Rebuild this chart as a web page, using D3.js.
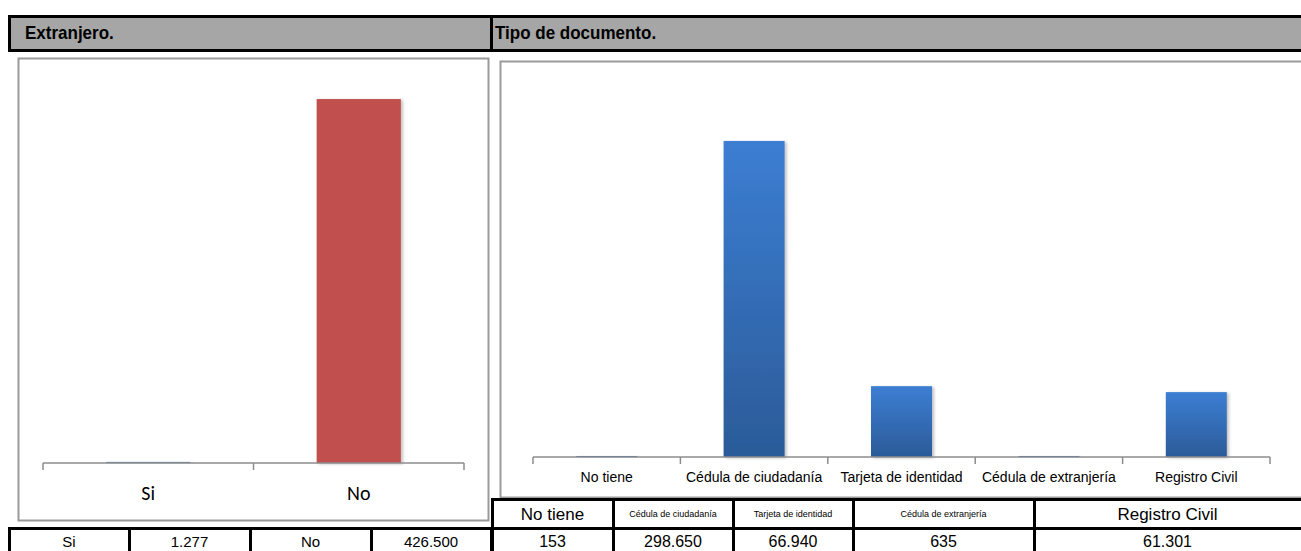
<!DOCTYPE html>
<html><head><meta charset="utf-8">
<script src="https://cdn.jsdelivr.net/npm/d3@7"></script>
<style>
body{margin:0;background:#fff;overflow:hidden}
svg{display:block}
</style></head>
<body>
<script>
const extranjeroCats = ["Si", "No"];
const extranjeroVals = [1277, 426500];
const docCats = ["No tiene", "Cédula de ciudadanía", "Tarjeta de identidad", "Cédula de extranjería", "Registro Civil"];
const docVals = [153, 298650, 66940, 635, 61301];
const titles = ["Extranjero.", "Tipo de documento."];

const W = 1301, H = 551;
const svg = d3.select("body").append("svg").attr("width", W).attr("height", H);
const narrow = "'Liberation Sans Narrow','Arial Narrow','Liberation Sans',Arial,sans-serif";
const loc = d3.formatLocale({decimal: ",", thousands: ".", grouping: [3], currency: ["", ""]});
const fmt = loc.format(",d");

const defs = svg.append("defs");
const g1 = defs.append("linearGradient").attr("id", "blueGrad").attr("x1", 0).attr("y1", 0).attr("x2", 0).attr("y2", 1);
g1.append("stop").attr("offset", "0%").attr("stop-color", "#3C7ED3");
g1.append("stop").attr("offset", "100%").attr("stop-color", "#2B5B98");
const f = defs.append("filter").attr("id", "shadow").attr("x", "-10%").attr("y", "-10%").attr("width", "130%").attr("height", "130%");
f.append("feDropShadow").attr("dx", 2).attr("dy", 1).attr("stdDeviation", 1.5).attr("flood-color", "#000").attr("flood-opacity", 0.25);

// Header bar
svg.append("rect").attr("x", 9.5).attr("y", 16.5).attr("width", 1300).attr("height", 34)
  .attr("fill", "#A6A6A6").attr("stroke", "#000").attr("stroke-width", 3);
svg.append("line").attr("x1", 491.5).attr("x2", 491.5).attr("y1", 16).attr("y2", 51).attr("stroke", "#000").attr("stroke-width", 3);
svg.append("text").attr("transform", "translate(25,39) scale(1,1.08)").text(titles[0])
  .attr("font-family", narrow).attr("font-weight", "bold").attr("font-size", 17).attr("fill", "#000");
svg.append("text").attr("transform", "translate(495,39) scale(1,1.08)").text(titles[1])
  .attr("font-family", narrow).attr("font-weight", "bold").attr("font-size", 17).attr("fill", "#000");

// Chart frames
svg.append("rect").attr("x", 18.5).attr("y", 58.5).attr("width", 470).attr("height", 462)
  .attr("fill", "#fff").attr("stroke", "#9A9A9A").attr("stroke-width", 2);
svg.append("rect").attr("x", 500.5).attr("y", 61.5).attr("width", 820).attr("height", 436)
  .attr("fill", "#fff").attr("stroke", "#9A9A9A").attr("stroke-width", 2);

function drawChart(cats, vals, opt) {
  const g = svg.append("g");
  const x = d3.scaleBand().domain(cats).range([opt.x0, opt.x1]).paddingInner(opt.pi).paddingOuter(opt.po);
  const y = d3.scaleLinear().domain([0, opt.ymax]).range([opt.base, opt.top]);
  g.selectAll("rect.bar").data(cats).enter().append("rect").attr("class", "bar")
    .attr("x", d => x(d)).attr("width", x.bandwidth())
    .attr("y", (d, i) => Math.min(y(vals[i]), opt.base - 1))
    .attr("height", (d, i) => Math.max(opt.base - y(vals[i]), 1))
    .attr("fill", (d, i) => opt.color(i))
    .attr("filter", "url(#shadow)");
  const ax = g.append("g").attr("transform", `translate(0,${opt.base})`)
    .call(d3.axisBottom(x).tickSize(0).tickPadding(opt.pad));
  ax.select(".domain").attr("stroke", "#8C8C8C").attr("stroke-width", 1.5).attr("d", `M${opt.x0},0H${opt.x1}`);
  ax.selectAll("text").attr("font-family", opt.font).attr("font-size", opt.fs).attr("fill", "#000");
  const step = x.step();
  const bounds = d3.range(cats.length + 1).map(i => opt.x0 + i * step);
  g.selectAll("line.tk").data(bounds).enter().append("line")
    .attr("x1", d => d).attr("x2", d => d).attr("y1", opt.base).attr("y2", opt.base + 7)
    .attr("stroke", "#8C8C8C").attr("stroke-width", 1.5);
}

drawChart(extranjeroCats, extranjeroVals, {
  x0: 43, x1: 464, pi: 0.6, po: 0.3, base: 463, top: 79, ymax: 450000,
  color: i => i === 0 ? "#4F81BD" : "#C0504D", font: "Carlito, Lato, 'Open Sans', sans-serif", fs: 20, pad: 23
});
drawChart(docCats, docVals, {
  x0: 533, x1: 1270, pi: 0.586, po: 0.293, base: 457, top: 86.6, ymax: 350000,
  color: () => "url(#blueGrad)", font: narrow, fs: 14, pad: 15
});

// Tables
function cellText(x, y, txt, fs) {
  svg.append("text").attr("x", x).attr("y", y).attr("text-anchor", "middle").attr("dominant-baseline", "central")
    .attr("font-family", narrow).attr("font-size", fs).attr("fill", "#000").text(txt);
}
const tb = svg.append("g").attr("stroke", "#000").attr("stroke-width", 3).attr("fill", "none");
// left table
const lCols = [9, 129, 250, 371, 491];
tb.append("rect").attr("x", 9.5).attr("y", 528.5).attr("width", 482).attr("height", 40);
lCols.slice(1, -1).forEach(c => tb.append("line").attr("x1", c + 0.5).attr("x2", c + 0.5).attr("y1", 528).attr("y2", 560));
const leftCells = [extranjeroCats[0], fmt(extranjeroVals[0]), extranjeroCats[1], fmt(extranjeroVals[1])];
leftCells.forEach((t, i) => cellText((lCols[i] + lCols[i + 1]) / 2, 541, t, 15));

// right table
const rCols = [492, 613, 733, 853, 1034, 1301];
tb.append("rect").attr("x", 492.5).attr("y", 499.5).attr("width", 820).attr("height", 70);
tb.append("line").attr("x1", 492).attr("x2", 1310).attr("y1", 528.5).attr("y2", 528.5);
rCols.slice(1, -1).forEach(c => tb.append("line").attr("x1", c + 0.5).attr("x2", c + 0.5).attr("y1", 499).attr("y2", 560));
const hdrSizes = [17, 9, 9, 9, 17];
docCats.forEach((c, i) => {
  const cx = (rCols[i] + rCols[i + 1]) / 2;
  cellText(cx, 514, c, hdrSizes[i]);
  cellText(cx, 541, fmt(docVals[i]), 16);
});
</script>
</body></html>
